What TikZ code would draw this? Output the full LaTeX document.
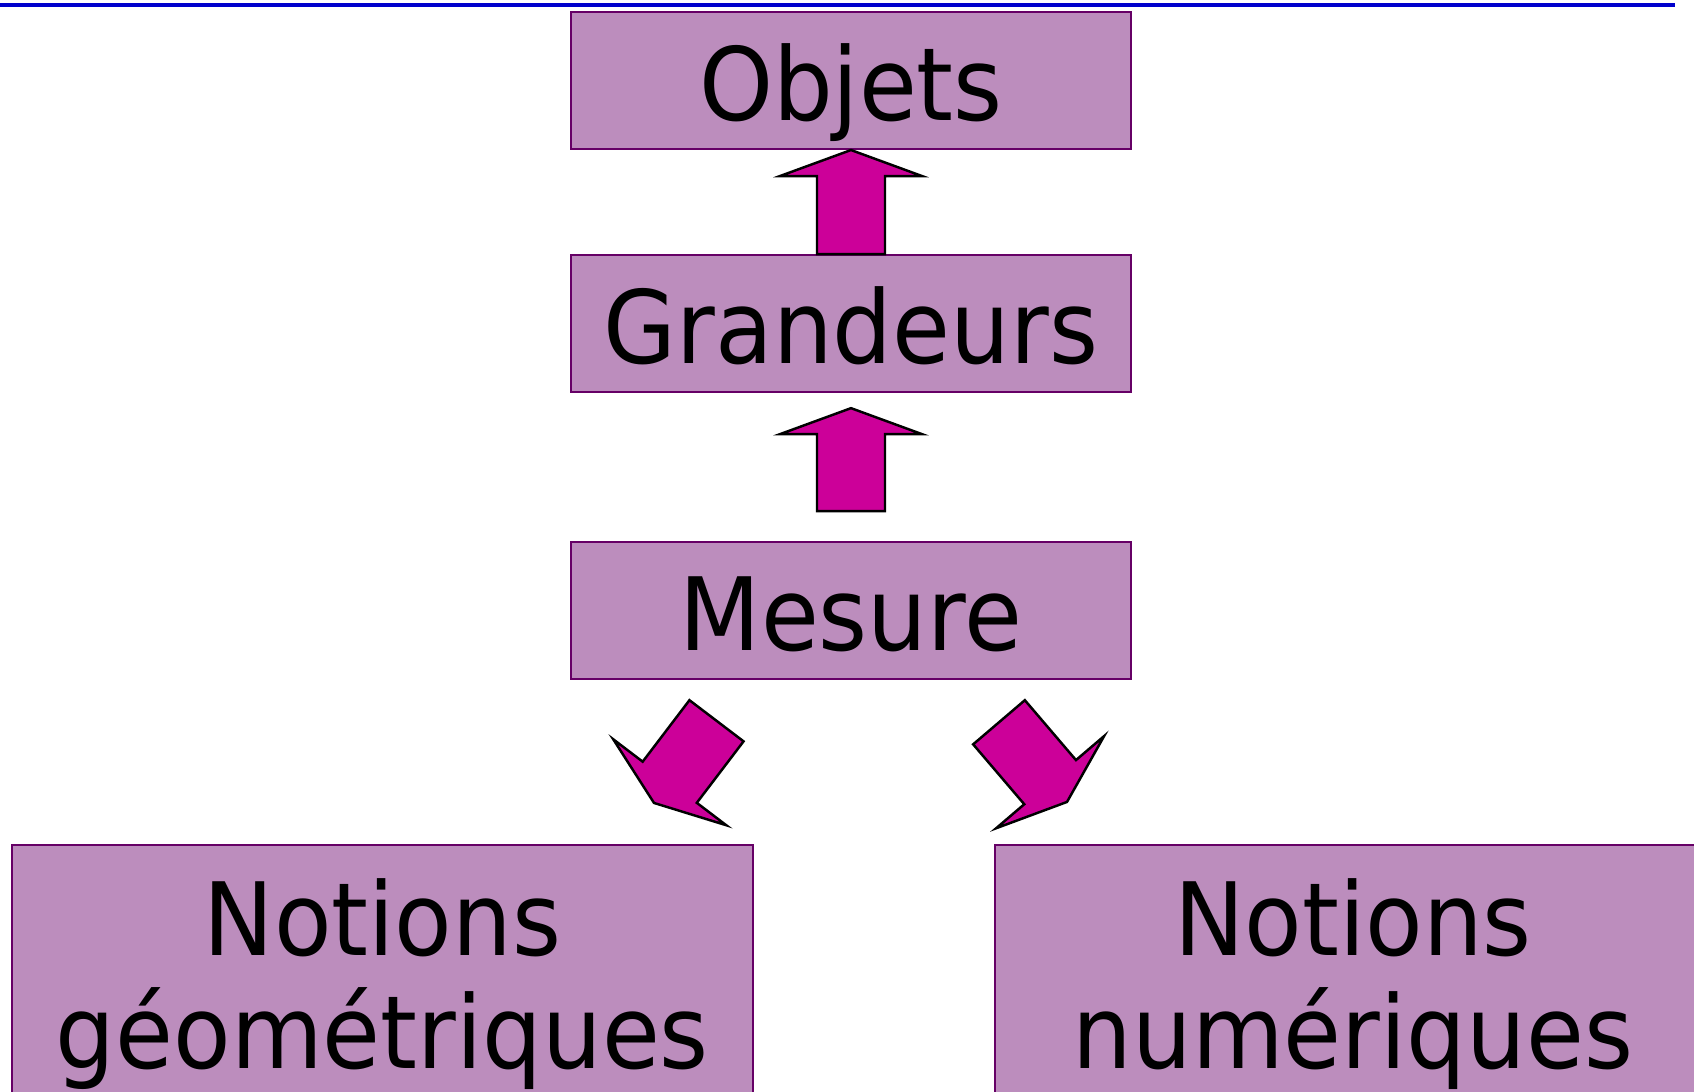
\documentclass[tikz,border=0pt]{standalone}
\usepackage{fontspec}
\setmainfont{DejaVu Sans}[FakeStretch=0.93]
\usetikzlibrary{positioning,calc}

% block arrow from #1 (foot) to #2 (tip)
\newcommand{\blocarrow}[2]{%
  \coordinate (hb) at ($(#2)!0.26cm!(#1)$);
  \draw[blocfleche] ($(#1)!0.34cm!90:(#2)$) -- ($(hb)!0.34cm!90:(#2)$)
    -- ($(hb)!0.71cm!90:(#2)$) -- (#2) -- ($(hb)!0.71cm!-90:(#2)$)
    -- ($(hb)!0.34cm!-90:(#2)$) -- ($(#1)!0.34cm!-90:(#2)$) -- cycle;}

\begin{document}
\begin{tikzpicture}[line join=miter,
    boite/.style={draw=boxline, fill=boxfill, line width=0.6pt, inner sep=0pt,
      align=center, font=\fontsize{28.8}{32.1}\selectfont},
    petite/.style={boite, minimum width=5.60cm, minimum height=1.37cm,
      text height=0.85cm, text depth=0.05cm},
    grande/.style={boite, minimum height=2.78cm},
    blocfleche/.style={draw=black, fill=flechefill, line width=0.7pt}]
  \definecolor{boxfill}{RGB}{188,141,189}
  \definecolor{boxline}{RGB}{102,0,102}
  \definecolor{flechefill}{RGB}{204,0,153}
  \definecolor{ligne}{RGB}{0,0,204}
  \clip (0,0) rectangle (16.94,-10.92);
  \fill[white] (0,0) rectangle (16.94,-10.92);
  \draw[ligne, line width=0.04cm] (0,-0.05) -- (16.75,-0.05);

  \node[petite] (objets) at (8.51,-0.805) {Objets};
  \node[petite, below=1.04cm of objets] (grandeurs) {Grandeurs};
  \node[petite, below=1.48cm of grandeurs] (mesure) {Mesure};
  \node[grande, minimum width=7.41cm] (geo) at (3.825,-9.84)
    {Notions\\géométriques};
  \node[grande, minimum width=7.16cm] (num) at (13.53,-9.84)
    {Notions\\numériques};

  \coordinate (m1) at ($(mesure.north)+(0,0.30)$);
  \coordinate (g1) at ($(grandeurs.south)+(0,-0.15)$);
  \coordinate (d1) at ($(mesure.south)+(-1.345,-0.405)$);
  \coordinate (d2) at ($(geo.north)+(2.715,0.41)$);
  \coordinate (d3) at ($(mesure.south)+(1.48,-0.42)$);
  \coordinate (d4) at ($(num.north)+(-2.86,0.42)$);

  \blocarrow{grandeurs.north}{objets.south}
  \blocarrow{m1}{g1}
  \blocarrow{d1}{d2}
  \blocarrow{d3}{d4}
\end{tikzpicture}
\end{document}
